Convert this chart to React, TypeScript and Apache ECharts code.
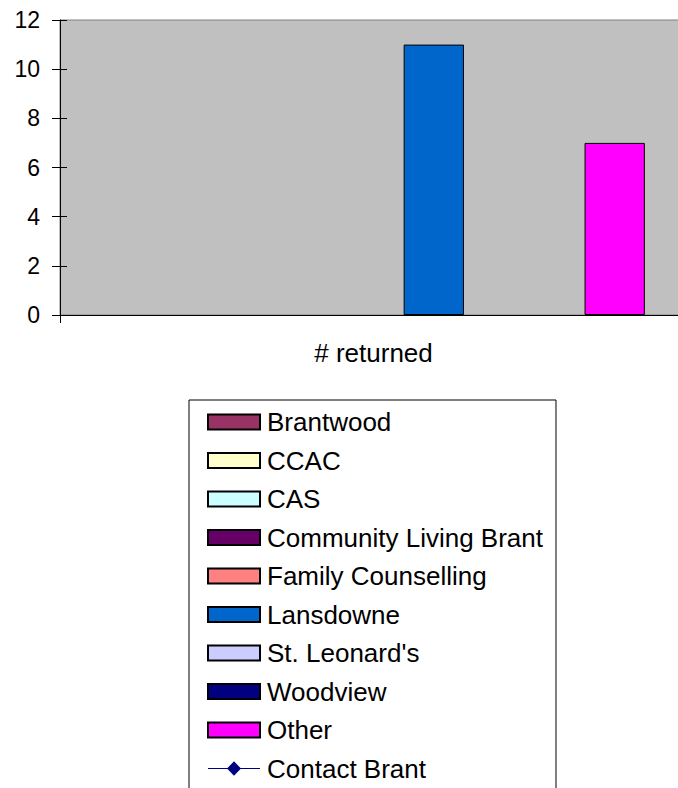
import React, { useEffect, useRef } from "react";
import * as echarts from "echarts";

const categories = ["# returned"];
const barSeriesNames = [
  "Brantwood",
  "CCAC",
  "CAS",
  "Community Living Brant",
  "Family Counselling",
  "Lansdowne",
  "St. Leonard's",
  "Woodview",
  "Other",
];
const barSeriesValues: (number | null)[] = [null, null, null, null, null, 11, null, null, 7];
const barColors = [
  "#993366",
  "#FFFFCC",
  "#CCFFFF",
  "#660066",
  "#FF8080",
  "#0066CC",
  "#CCCCFF",
  "#000080",
  "#FF00FF",
];
const lineSeriesName = "Contact Brant";
const lineSeriesValues: (number | null)[] = [null];
const lineColor = "#000080";
const yTicks = [0, 2, 4, 6, 8, 10, 12];

const FONT = "'Liberation Sans', Arial, sans-serif";
const LINE_ICON =
  "path://M0,7.2L52,7.2L52,8.2L0,8.2Z M26,0.5L33,7.7L26,14.9L19,7.7Z";

export default function App() {
  const ref = useRef<HTMLDivElement>(null);

  useEffect(() => {
    if (!ref.current) return;
    const chart = echarts.init(ref.current, undefined, { renderer: "svg" });

    const barSeries = barSeriesNames.map((name, i) => ({
      name,
      type: "bar",
      data: [barSeriesValues[i]],
      barWidth: 60.3,
      barGap: "0%",
      itemStyle: {
        color: barColors[i],
        borderColor: "#000000",
        borderWidth: 1,
      },
    }));

    const option = {
      animation: false,
      backgroundColor: "#ffffff",
      textStyle: { fontFamily: FONT, color: "#000" },
      grid: {
        left: 60,
        top: 20,
        right: 3,
        bottom: 473,
        show: true,
        backgroundColor: "#C0C0C0",
        borderColor: "#808080",
        borderWidth: 1,
      },
      xAxis: {
        type: "category",
        data: categories,
        boundaryGap: true,
        axisLine: { show: true, lineStyle: { color: "#000", width: 1 } },
        axisTick: { show: true, length: 8, lineStyle: { color: "#000" } },
        axisLabel: {
          fontSize: 26,
          color: "#000",
          fontFamily: FONT,
          margin: 25,
        },
        splitLine: { show: false },
      },
      yAxis: [
        {
          type: "value",
          min: yTicks[0],
          max: yTicks[yTicks.length - 1],
          interval: 2,
          axisLine: { show: true, lineStyle: { color: "#000", width: 1 } },
          axisTick: { show: true, length: 8, lineStyle: { color: "#000" } },
          axisLabel: {
            fontSize: 23,
            color: "#000",
            fontFamily: FONT,
            margin: 20,
          },
          splitLine: { show: false },
        },
        {
          type: "value",
          position: "left",
          min: yTicks[0],
          max: yTicks[yTicks.length - 1],
          interval: 2,
          axisLine: { show: false },
          axisTick: {
            show: true,
            inside: true,
            length: 7,
            lineStyle: { color: "#000" },
          },
          axisLabel: { show: false },
          splitLine: { show: false },
        },
      ],
      legend: {
        orient: "vertical",
        left: 189,
        top: 400,
        height: 420,
        padding: [9, 13, 20, 18],
        itemWidth: 52,
        itemHeight: 15,
        itemGap: 12.5,
        backgroundColor: "#ffffff",
        borderColor: "#000000",
        borderWidth: 1,
        borderRadius: 0,
        textStyle: {
          fontSize: 26,
          lineHeight: 25,
          color: "#000",
          fontFamily: FONT,
          padding: [0, 0, 0, 2],
        },
        data: [
          ...barSeriesNames.map((name) => ({ name, icon: "rect" })),
          {
            name: lineSeriesName,
            icon: LINE_ICON,
            itemStyle: { color: lineColor, borderWidth: 0 },
          },
        ],
      },
      series: [
        ...barSeries,
        {
          name: lineSeriesName,
          type: "line",
          data: lineSeriesValues,
          symbol: "diamond",
          symbolSize: 13,
          itemStyle: { color: lineColor },
          lineStyle: { color: lineColor, width: 1 },
        },
      ],
    };

    chart.setOption(option as any);
    return () => chart.dispose();
  }, []);

  return (
    <div
      ref={ref}
      style={{ position: "fixed", left: 0, top: 0, width: 690, height: 788 }}
    />
  );
}
